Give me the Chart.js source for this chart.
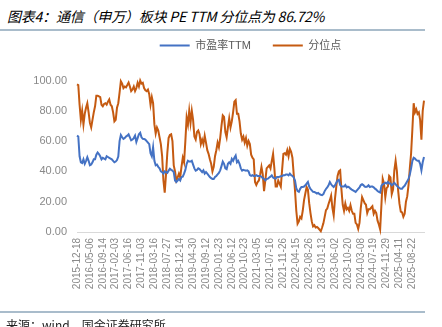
<!DOCTYPE html>
<html>
<head>
<meta charset="utf-8">
<script src="https://cdn.jsdelivr.net/npm/chart.js@4.4.1/dist/chart.umd.min.js"></script>
<style>
  html, body { margin: 0; padding: 0; background: #fff; overflow: hidden; }
  body { width: 442px; height: 327px; position: relative; }
  .title {
    position: absolute; left: 7px; top: 6px;
    font: italic 14px "Noto Sans CJK SC", sans-serif;
    color: #000; white-space: nowrap; letter-spacing: -0.2px;
  }
  .rule { position: absolute; left: 0; width: 425px; height: 1.5px; background: #a9bccb; }
  .source {
    position: absolute; left: 6px; top: 316px;
    font: 12px "Noto Sans CJK SC", sans-serif; color: #222; white-space: nowrap;
  }
  #box { position: absolute; left: 0; top: 0; width: 442px; height: 327px; }
</style>
</head>
<body>
<div class="title">图表4：通信（申万）板块 PE TTM 分位点为 86.72%</div>
<div class="rule" style="top:29px"></div>
<div id="box"><canvas id="myChart"></canvas></div>
<div class="rule" style="top:311px"></div>
<div class="source">来源：wind，国金证券研究所</div>

<script>
// 每隔两周取一个点，每 10 个点标一个日期
const tickLabels = [
  '2015-12-18', '2016-05-06', '2016-09-14', '2017-02-03', '2017-06-16', '2017-11-03',
  '2018-03-16', '2018-07-27', '2018-12-14', '2019-04-30', '2019-09-12', '2020-01-23',
  '2020-06-12', '2020-10-23', '2021-03-05', '2021-07-16', '2021-11-26', '2022-04-15',
  '2022-08-26', '2023-01-13', '2023-06-02', '2023-10-20', '2024-03-08', '2024-07-19',
  '2024-11-29', '2025-04-11', '2025-08-22'
];

// 市盈率TTM
const peTTM = [
  63.6, 63, 50, 46, 45.5, 48, 45, 47, 49.4, 47,
  44, 44.5, 46, 48, 48, 51, 52.5, 51.5, 50, 48,
  49, 48.5, 48, 50, 49.5, 49, 48.5, 48, 47, 46,
  46.5, 47.5, 49.8, 60, 64, 62.5, 61.4, 62, 63, 63.6,
  64.5, 62.5, 60.5, 61, 62, 63.6, 59.5, 62, 64.5, 65.5,
  62.5, 61.5, 61.4, 61, 60, 59, 58, 52, 50, 56,
  47, 44, 44.5, 43, 42, 40, 39.5, 38.5, 40, 39.5,
  39, 40.5, 41.7, 41, 40.5, 39.5, 34, 33, 34, 35,
  34, 36.3, 36.5, 38.5, 41, 45, 47, 46.5, 46.5, 47,
  44.5, 42, 40.5, 41, 42, 41.5, 40.5, 39.5, 40.7, 38.5,
  39.5, 38.5, 37.4, 36.3, 35.5, 35, 35, 36.3, 37, 38,
  39, 40.7, 43.5, 46.5, 45, 42, 41.5, 45, 46, 45,
  48.3, 47, 49, 50.5, 46, 47, 45, 42, 40.5, 41,
  40.7, 40.5, 40.7, 40, 37.5, 37, 37.5, 37, 37, 37.5,
  37, 37, 37, 36.5, 35.5, 35, 34, 35, 35.2, 36,
  36.5, 37.4, 36, 35.5, 35.2, 36.3, 36.3, 36.5, 36.8, 37,
  37.4, 37.4, 38, 38, 37.4, 38.5, 37.5, 37, 36, 34,
  29, 27, 26.5, 28.5, 29.7, 29.7, 30, 30.8, 31.9, 33,
  30, 28.4, 27.5, 26.5, 26.4, 26, 25.4, 25.8, 25, 24.6,
  24.3, 25, 27, 28.4, 29.5, 30.8, 33, 31.5, 30.5, 29.7,
  30.8, 32.5, 34, 34.5, 31, 30, 30, 30, 31, 29.5,
  30, 29.5, 28.6, 28, 27.5, 27, 26.5, 27.5, 28.5, 29.5,
  31, 31.5, 31, 30, 29.8, 30, 30.8, 29.7, 30, 30,
  29.5, 28.6, 28, 27, 26.4, 26, 30.5, 31.5, 32, 32.5,
  32, 33, 32, 32, 30.8, 31.5, 32.5, 31.5, 30.5, 29.7,
  29, 28.6, 28.6, 29.7, 30.5, 32, 33.5, 35, 38, 42,
  47, 49, 48.5, 47.5, 47, 47, 45, 40.7, 46, 49.5
];

// 分位点（%）
const percentile = [
  97.5, 97, 84, 74, 80, 71, 78, 82, 85, 79,
  72, 69, 74, 79, 83, 90, 90, 89.5, 89, 84,
  83, 84.5, 85, 84, 86, 87.5, 84, 83, 79, 73,
  74, 82, 85, 92, 99.5, 98, 95, 96, 95.5, 97,
  98.6, 96, 93, 94, 96, 93, 95, 98.5, 96, 100,
  98, 98.5, 95, 93.5, 93, 94, 91, 84, 89, 85,
  71, 65, 69, 67, 62.5, 58, 50, 34, 26, 38,
  52, 62, 64, 64.5, 60, 44, 40, 34, 36, 38.5,
  36, 43, 49, 46, 60, 75.6, 71, 80, 72, 80,
  74, 63, 61, 66, 67, 64.5, 58, 61, 58, 63.6,
  59, 54, 51.6, 48, 45, 40, 43, 50, 54, 59,
  56, 62, 70, 77, 76, 66, 62.5, 69, 75, 69,
  73, 79, 86, 87, 78, 78, 73, 65, 61, 63,
  59, 62, 57, 60, 58, 51, 49, 48, 33, 31,
  33, 34, 38, 43, 38, 27, 34, 42, 43, 44,
  42, 47, 51.6, 42, 30, 30, 34, 32, 30, 41,
  51.6, 52, 51, 54, 50, 55, 53, 49, 38, 27.5,
  14, 5.5, 7, 10, 9, 14, 21, 25.4, 29.7, 28,
  19, 12.5, 7, 3.7, 4.5, 3, 3.3, 2.6, 1.5, 0.5,
  3, 5.7, 10, 14.4, 15.5, 18.5, 21, 24, 16, 11,
  22, 30, 37, 40, 40.7, 28, 18, 14, 18.8, 15,
  16, 14, 17.7, 14, 12, 12, 6, 5, 2, 6,
  16, 23, 21, 19, 18, 12.5, 15, 15, 16, 17,
  12, 14, 12.5, 7.5, 5, 1.8, 18, 35, 32, 23,
  29, 30, 37, 36, 25, 28, 40.7, 47, 40, 27,
  18.5, 13.5, 13, 10, 12, 20, 23.5, 31, 42, 52,
  68, 85, 79, 81, 78, 79, 74, 61, 80, 86.72
];

const toPoints = arr => arr.map((v, i) => ({ x: i, y: v }));

// 图例下方多留一点空白
const legendGap = {
  id: 'legendGap',
  beforeInit(chart) {
    const fit = chart.legend.fit;
    chart.legend.fit = function () {
      fit.call(this);
      this.height += 19.5;
    };
  }
};

const ctx = document.getElementById('myChart');

new Chart(ctx, {
  type: 'line',
  data: {
    datasets: [
      {
        label: '市盈率TTM',
        data: toPoints(peTTM),
        borderColor: '#4472c4',
        backgroundColor: '#4472c4',
        borderWidth: 2,
        pointRadius: 0,
        pointStyle: 'line',
        tension: 0,
        clip: 4
      },
      {
        label: '分位点',
        data: toPoints(percentile),
        borderColor: '#c55a11',
        backgroundColor: '#c55a11',
        borderWidth: 2,
        pointRadius: 0,
        pointStyle: 'line',
        tension: 0,
        clip: 4
      }
    ]
  },
  plugins: [legendGap],
  options: {
    responsive: true,
    maintainAspectRatio: false,
    animation: false,
    layout: { padding: { left: 0, right: 18, top: 18, bottom: 0 } },
    plugins: {
      legend: {
        position: 'top',
        fullSize: false,
        labels: {
          usePointStyle: true,
          pointStyleWidth: 30,
          padding: 22,
          color: '#595959',
          font: { family: "'Liberation Sans', 'Noto Sans CJK SC'", size: 11 }
        }
      },
      tooltip: { enabled: false }
    },
    scales: {
      x: {
        type: 'linear',
        min: 0,
        max: peTTM.length - 1,
        grid: { display: false, drawTicks: false },
        border: { display: true, color: '#d9d9d9', width: 1 },
        afterFit(scale) { scale.height = 95; },
        ticks: {
          stepSize: 10,
          includeBounds: false,
          autoSkip: false,
          minRotation: 90,
          maxRotation: 90,
          padding: 6,
          color: '#898989',
          font: { family: 'Liberation Sans', size: 10 },
          callback: v => tickLabels[v / 10] || ''
        }
      },
      y: {
        min: 0,
        max: 100,
        grid: { display: false, drawTicks: false },
        border: { display: false },
        afterFit(scale) { scale.width = 77; },
        ticks: {
          stepSize: 20,
          padding: 10,
          color: '#898989',
          font: { family: 'Liberation Sans', size: 11 },
          callback: v => Number(v).toFixed(2)
        }
      }
    }
  }
});
</script>
</body>
</html>
